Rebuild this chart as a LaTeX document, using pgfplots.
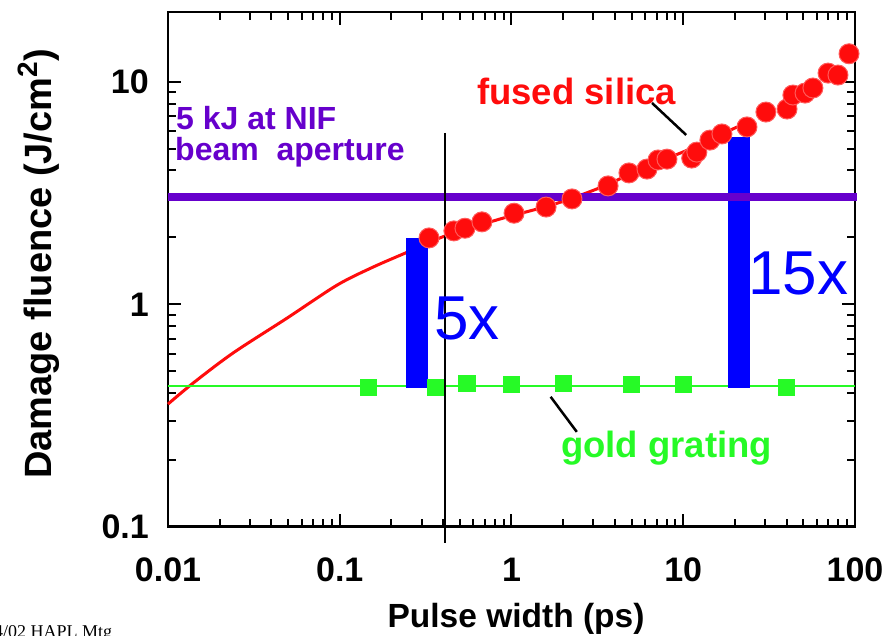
\documentclass[border=0pt]{standalone}
\usepackage{pgfplots}
\pgfplotsset{compat=1.18}
\usepackage{fontspec}
\setmainfont{Liberation Sans}
\setsansfont{Liberation Sans}
\newfontfamily\timesfont{Liberation Serif}
\definecolor{fsred}{RGB}{255,12,12}
\definecolor{fsedge}{RGB}{255,90,90}
\definecolor{ggreen}{RGB}{38,250,38}
\definecolor{nifpurple}{RGB}{102,0,204}
\definecolor{barblue}{RGB}{0,0,255}
\newcommand{\fs}[1]{\fontsize{#1}{#1}\selectfont}

\pgfplotstableread{
x y
0.331 1.99
0.462 2.14
0.536 2.20
0.673 2.35
1.035 2.57
1.59 2.74
2.25 2.98
3.65 3.41
4.83 3.90
6.15 4.06
7.13 4.46
8.04 4.50
11.2 4.55
12.0 4.84
14.3 5.48
16.8 5.84
23.5 6.28
30.3 7.33
40.2 7.56
43.5 8.74
51.2 8.92
56.9 9.40
69.7 10.97
79.6 10.75
92.3 13.4
}\silicadata

\pgfplotstableread{
x y
0.01 0.356
0.01398 0.442
0.0239 0.604
0.0493 0.867
0.0964 1.22
0.156 1.47
0.249 1.72
0.41 2.03
0.857 2.42
1.5 2.72
2.2 2.98
3.6 3.45
6.0 4.15
10.0 4.85
15.0 5.6
20.6 6.28
}\silicafit

\pgfplotstableread{
x y
0.146 0.425
0.363 0.423
0.55 0.44
1.0 0.435
2.0 0.44
5.0 0.435
10.0 0.435
40.0 0.425
}\golddata

\begin{document}
\begin{tikzpicture}
\path[use as bounding box] (-168pt,-109.3pt) rectangle (724pt,526.7pt);
\clip (-168pt,-109.3pt) rectangle (724pt,526.7pt);
\begin{axis}[
  at={(0pt,0pt)}, anchor=south west,
  scale only axis, width=687pt, height=514.7pt,
  xmode=log, ymode=log,
  xmin=0.01, xmax=100, ymin=0.1, ymax=20.65,
  clip=false,
  axis line style={line width=2.5pt, black},
  tick align=inside,
  major tick length=13pt, minor tick length=8pt,
  tick style={black, line width=2pt},
  xtick={0.01,0.1,1,10,100},
  xticklabels={0.01,0.1,1,10,100},
  minor xtick={0.02,0.03,0.04,0.05,0.06,0.07,0.08,0.09,0.2,0.3,0.4,0.5,0.6,0.7,0.8,0.9,2,3,4,5,6,7,8,9,20,30,40,50,60,70,80,90},
  ytick={0.1,1,10},
  yticklabels={0.1,1,10},
  minor ytick={0.2,0.3,0.4,0.5,0.6,0.7,0.8,0.9,2,3,4,5,6,7,8,9},
  /pgf/number format/assume math mode=true,
  ticklabel style={font=\fs{34}\bfseries},
  xticklabel style={anchor=base, yshift=-55.3pt},
  yticklabel style={anchor=east, inner sep=0pt, xshift=-19pt},
  xlabel={\fs{33.5}\bfseries Pulse width (ps)},
  xlabel style={at={(axis description cs:0.5066,-0.1968)}, anchor=base, inner sep=0pt},
  ylabel={\fs{38}\bfseries Damage fluence (J/cm\raisebox{0.38em}{\fs{28}2})},
  ylabel style={at={(axis description cs:-0.1689,0.5104)}, anchor=base, inner sep=0pt},
]
% fused silica fit curve
\addplot[fsred, line width=3pt, no marks, smooth] table {\silicafit};
% fused silica data
\addplot[only marks, mark=*, mark size=10pt, mark options={fill=fsred, draw=fsedge, line width=1pt}] table {\silicadata};
% gold grating fit line
\addplot[ggreen, line width=2.5pt, no marks] coordinates {(0.01,0.43) (100,0.43)};
% gold grating data
\addplot[only marks, mark=square*, mark size=8pt, mark options={fill=ggreen, draw=ggreen, line width=0.8pt}] table {\golddata};
% ratio bars
\addplot[fill=barblue, draw=none] coordinates {(0.243,0.42) (0.325,0.42) (0.325,1.98) (0.243,1.98)} -- cycle;
\addplot[fill=barblue, draw=none] coordinates {(18.3,0.42) (24.5,0.42) (24.5,5.64) (18.3,5.64)} -- cycle;
% NIF level
\addplot[nifpurple, line width=8.3pt, no marks] coordinates {(0.01,3.05) (102.7,3.05)};
% pulse width marker
\addplot[black, line width=2.8pt, no marks] coordinates {(0.41,5.9) (0.41,0.0844)};
% annotation leaders
\draw[black, line width=2.5pt] (axis cs:6.58,8.05) -- (axis cs:10.4,5.78);
\draw[black, line width=2.5pt] (axis cs:1.69,0.384) -- (axis cs:2.40,0.267);
\end{axis}
% texts (1pt = 1px of the reference, origin at axis lower left)
\node[anchor=base west, inner sep=0pt, text=fsred, font=\fs{36.5}\bfseries] at (309pt,421.7pt) {fused silica};
\node[anchor=base west, inner sep=0pt, text=nifpurple, font=\fs{32}\bfseries] at (8pt,396.7pt) {5 kJ at NIF};
\node[anchor=base west, inner sep=0pt, text=nifpurple, font=\fs{32}\bfseries] at (7pt,365.7pt) {beam\ \ aperture};
\node[anchor=base west, inner sep=0pt, text=ggreen, font=\fs{36.5}\bfseries] at (393pt,68.7pt) {gold grating};
\node[anchor=base west, inner sep=0pt, text=barblue, font=\fs{62}] at (266pt,186.7pt) {5x};
\node[anchor=base west, inner sep=0pt, text=barblue, font=\fs{62}] at (580pt,231.7pt) {15x};
\node[anchor=base west, inner sep=0pt, font=\fs{18}\timesfont] at (-174pt,-111.3pt) {4/02 HAPL Mtg};
\end{tikzpicture}
\end{document}
